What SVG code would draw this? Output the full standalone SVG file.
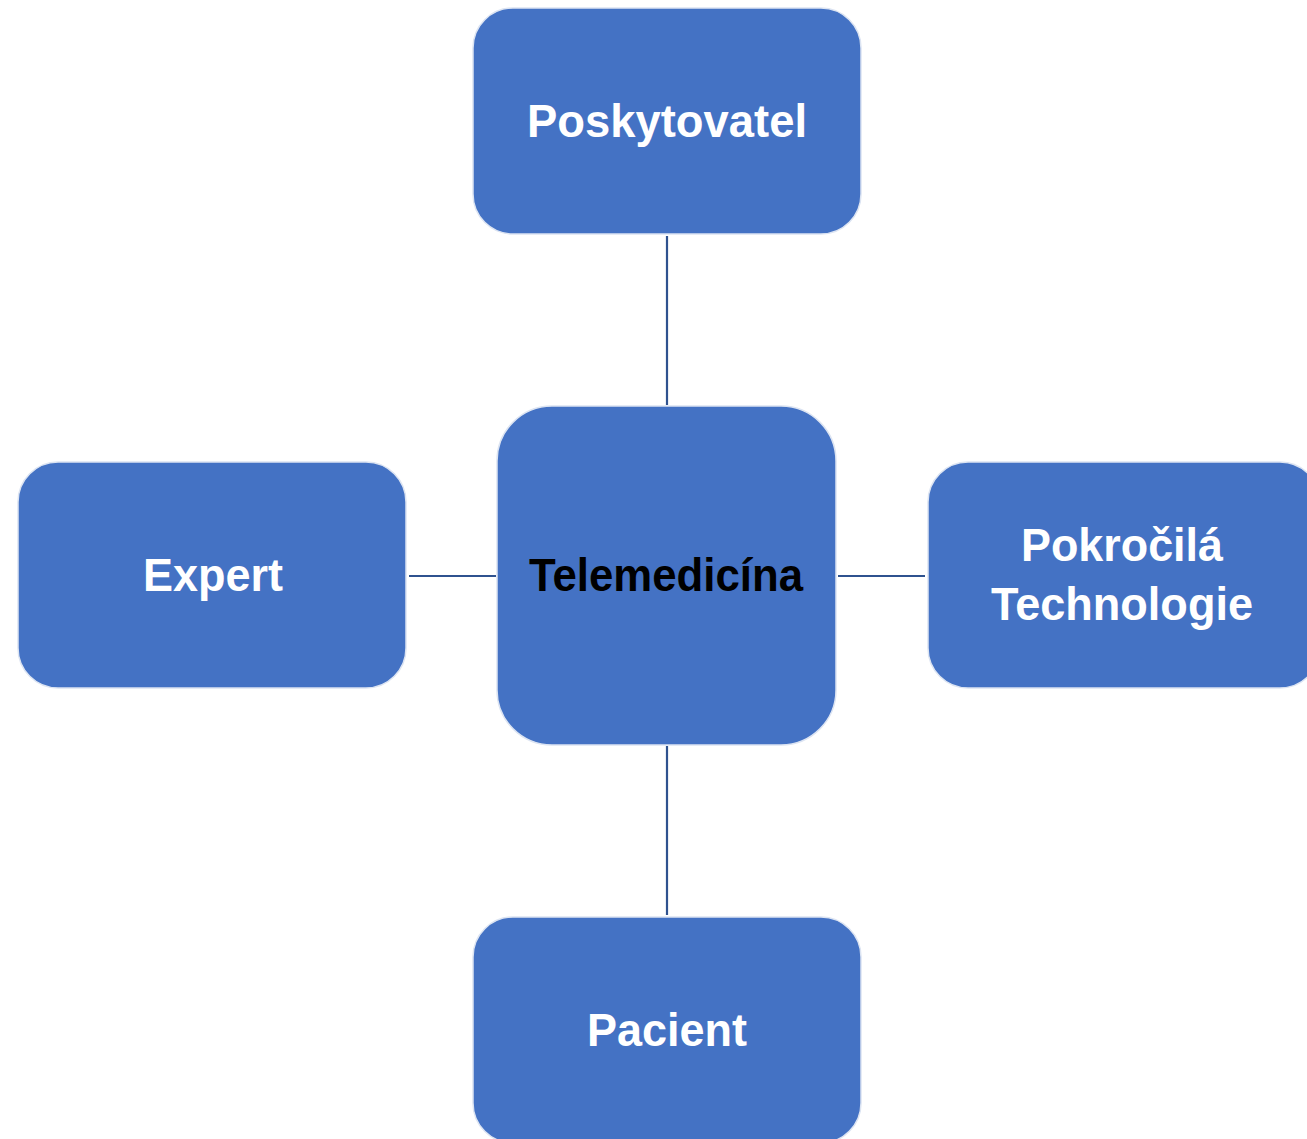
<svg xmlns="http://www.w3.org/2000/svg" width="1307" height="1139" viewBox="0 0 1307 1139">
<style>
.box{fill:#4472C4;stroke:#DCE4F2;stroke-width:1.5}
.lbl{font-family:"Liberation Sans",Arial,sans-serif;font-weight:bold;font-size:46px;fill:#FFFFFF;text-anchor:middle}
.dark{fill:#000000}
.conn{stroke:#2F528F;stroke-width:2.2;fill:none}
</style>
<rect width="1307" height="1139" fill="#FFFFFF"/>
<g id="connectors">
<line class="conn" x1="667" y1="236" x2="667" y2="405"/>
<line class="conn" x1="667" y1="746" x2="667" y2="915"/>
<line class="conn" x1="409" y1="576" x2="496" y2="576"/>
<line class="conn" x1="838" y1="576" x2="925" y2="576"/>
</g>
<g id="node-poskytovatel">
<rect class="box" x="473" y="8" width="388" height="226" rx="40"/>
<text class="lbl" x="667" y="137" textLength="280" lengthAdjust="spacingAndGlyphs">Poskytovatel</text>
</g>
<g id="node-telemedicina">
<rect class="box" x="497" y="406" width="339" height="339" rx="55"/>
<text class="lbl dark" x="666" y="591" textLength="274" lengthAdjust="spacingAndGlyphs">Telemedicína</text>
</g>
<g id="node-expert">
<rect class="box" x="18" y="462" width="388" height="226" rx="40"/>
<text class="lbl" x="213" y="591" textLength="140" lengthAdjust="spacingAndGlyphs">Expert</text>
</g>
<g id="node-technologie">
<rect class="box" x="928" y="462" width="392" height="226" rx="40"/>
<text class="lbl" x="1122" y="561" textLength="202" lengthAdjust="spacingAndGlyphs">Pokročilá</text>
<text class="lbl" x="1122" y="620" textLength="262" lengthAdjust="spacingAndGlyphs">Technologie</text>
</g>
<g id="node-pacient">
<rect class="box" x="473" y="917" width="388" height="226" rx="40"/>
<text class="lbl" x="667" y="1046" textLength="160" lengthAdjust="spacingAndGlyphs">Pacient</text>
</g>
</svg>
